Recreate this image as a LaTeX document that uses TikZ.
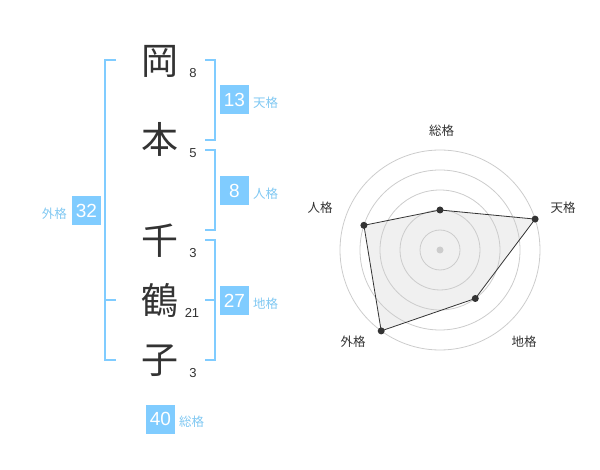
\documentclass[tikz,border=0pt]{standalone}
\usepackage{fontspec}
\newfontfamily\cjk{Noto Sans CJK JP}
\setmainfont{Liberation Sans}
\definecolor{bl}{HTML}{80CCFF}
\definecolor{bltxt}{HTML}{80C8F2}
\definecolor{ink}{HTML}{333333}
\definecolor{ring}{HTML}{CCCCCC}
\begin{document}
\begin{tikzpicture}[x=1pt,y=-1pt,
  kanji/.style={font=\cjk\fontsize{37}{37}\selectfont, text=ink, inner sep=0},
  strokes/.style={font=\fontsize{13}{13}\selectfont, text=ink, inner sep=0},
  valbox/.style={fill=bl, text=white, minimum width=29pt, minimum height=29pt, inner sep=0, font=\fontsize{19}{19}\selectfont},
  kaku/.style={font=\cjk\fontsize{12.5}{12.5}\selectfont, text=bltxt, inner sep=0, anchor=west},
  brk/.style={draw=bl, line width=1.3pt},
  rlabel/.style={font=\cjk\fontsize{12.5}{12.5}\selectfont, text=ink, inner sep=0},
  ringc/.style={draw=ring, line width=0.8pt},
  dot/.style={circle, fill=ink, inner sep=0, minimum size=7pt}
]
\useasboundingbox (0,0) rectangle (600,470);
% kanji
\node[kanji] (k1) at (160,61) {岡};
\node[kanji] (k2) at (160,139) {本};
\node[kanji] (k3) at (160,241) {千};
\node[kanji] (k4) at (160,300) {鶴};
\node[kanji] (k5) at (160,361) {子};
% stroke counts
\node[strokes] (s1) at (193,73) {8};
\node[strokes] (s2) at (193,153) {5};
\node[strokes] (s3) at (193,253) {3};
\node[strokes] (s4) at (192,313) {21};
\node[strokes] (s5) at (193,373) {3};
% right brackets
\draw[brk] (205,60) -- (215,60) -- (215,140) -- (205,140);
\draw[brk] (205,150) -- (215,150) -- (215,230) -- (205,230);
\draw[brk] (205,240) -- (215,240) -- (215,360) -- (205,360);
\draw[brk] (205,300) -- (215,300);
% left bracket
\draw[brk] (116,60) -- (105,60) -- (105,360) -- (116,360);
\draw[brk] (105,300) -- (116,300);
% value boxes
\node[valbox] (b1) at (234.5,100) {13};
\node[kaku] (l1) at (253,103) {天格};
\node[valbox] (b2) at (234.5,190.5) {8};
\node[kaku] (l2) at (253,194) {人格};
\node[valbox] (b3) at (234.5,300.5) {27};
\node[kaku] (l3) at (253,304) {地格};
\node[valbox] (b4) at (86.5,211) {32};
\node[kaku, anchor=east] (l4) at (67,214) {外格};
\node[valbox] (b5) at (160.5,419) {40};
\node[kaku] (l5) at (179,422) {総格};
% radar
\coordinate (c) at (440,250);
\path (c) ++(0,-40) coordinate (p1);
\path (c) ++(95.1,-30.9) coordinate (p2);
\path (c) ++(35.3,48.5) coordinate (p3);
\path (c) ++(-58.8,80.9) coordinate (p4);
\path (c) ++(-76.1,-24.7) coordinate (p5);
\fill[black!6] (p1) -- (p2) -- (p3) -- (p4) -- (p5) -- cycle;
\foreach \r in {20,40,60,80,100} \draw[ringc] (c) circle (\r);
\fill[ring] (c) circle (3.5);
\draw[draw=ink, line width=0.8pt] (p1) -- (p2) -- (p3) -- (p4) -- (p5) -- cycle;
\foreach \p in {p1,p2,p3,p4,p5} \node[dot] at (\p) {};
\node[rlabel] (r1) at (441.5,131) {総格};
\node[rlabel] (r2) at (563,208) {天格};
\node[rlabel] (r3) at (524,342) {地格};
\node[rlabel] (r4) at (353,342) {外格};
\node[rlabel] (r5) at (320,208) {人格};
\end{tikzpicture}
\end{document}
